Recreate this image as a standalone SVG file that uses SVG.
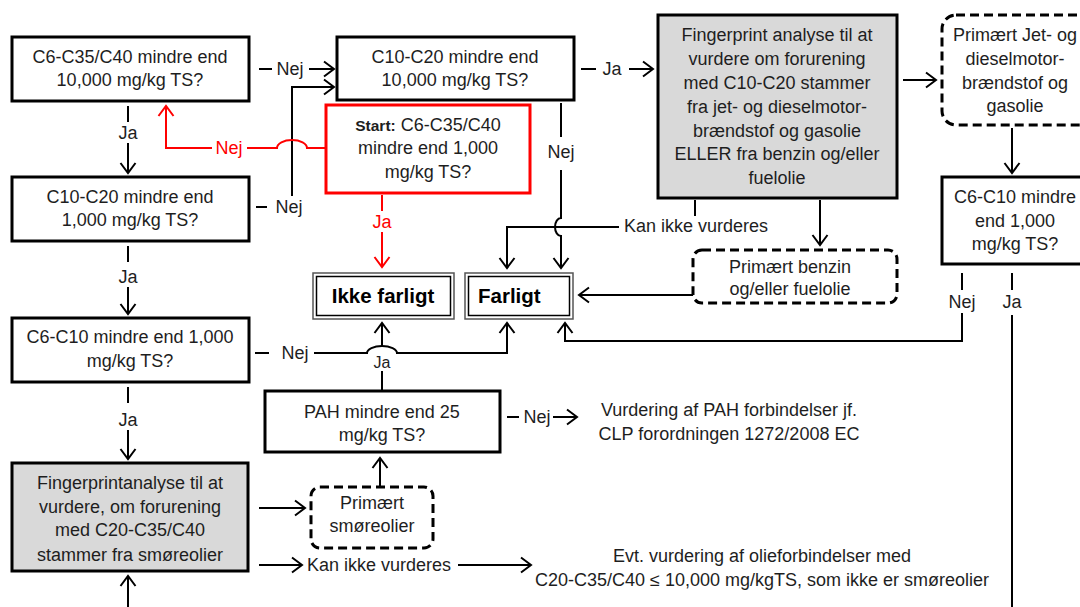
<svg xmlns="http://www.w3.org/2000/svg" width="1080" height="607" viewBox="0 0 1080 607">
<style>
text{font-family:"Liberation Sans",Arial,sans-serif;font-size:18px;fill:#1e1e1e;text-anchor:middle}
.box{fill:#fff;stroke:#000;stroke-width:3}
.gray{fill:#d9d9d9;stroke:#000;stroke-width:3}
.dash{fill:#fff;stroke:#000;stroke-width:3;stroke-dasharray:9 5}
.red{fill:#fff;stroke:#ff0000;stroke-width:3}
.outer{fill:#fff;stroke:#555;stroke-width:1.5}
.inner{fill:none;stroke:#000;stroke-width:1.5}
.big{font-size:20.5px;font-weight:bold;fill:#000}
.c{fill:none;stroke:#000;stroke-width:2}
.cr{fill:none;stroke:#ff0000;stroke-width:2}
.rt{fill:#ff0000}
.st{text-anchor:start}
</style>
<defs>
<marker id="a" markerUnits="userSpaceOnUse" markerWidth="16" markerHeight="18" viewBox="0 0 16 18" refX="14" refY="9" orient="auto">
<path d="M4,1.5 L14,9 L4,16.5" fill="none" stroke="#000" stroke-width="2"/>
</marker>
<marker id="ar" markerUnits="userSpaceOnUse" markerWidth="16" markerHeight="18" viewBox="0 0 16 18" refX="14" refY="9" orient="auto">
<path d="M4,1.5 L14,9 L4,16.5" fill="none" stroke="#ff0000" stroke-width="2"/>
</marker>
</defs>

<g id="connectors">
<!-- box1 -> box2 Nej -->
<line class="c" x1="259" y1="69" x2="272" y2="69"/>
<text x="290" y="75">Nej</text>
<line class="c" x1="309" y1="69" x2="334" y2="69" marker-end="url(#a)"/>
<!-- box3 -> box2 Nej -->
<line class="c" x1="256" y1="207" x2="267" y2="207"/>
<text x="289" y="213">Nej</text>
<path class="c" d="M292,196 V87 H334" marker-end="url(#a)"/>
<!-- red start -> box1 Nej -->
<path class="cr" d="M325,148 H307 A15,8 0 0 0 277,148 H247"/>
<text class="rt" x="229" y="154">Nej</text>
<path class="cr" d="M212,148 H166 V106" marker-end="url(#ar)"/>
<!-- red start -> Ikke farligt Ja -->
<line class="cr" x1="382" y1="195" x2="382" y2="211"/>
<text class="rt" x="382" y="228">Ja</text>
<line class="cr" x1="382" y1="232" x2="382" y2="267" marker-end="url(#ar)"/>
<!-- left column Ja arrows -->
<line class="c" x1="128" y1="106" x2="128" y2="122"/>
<text x="128" y="139">Ja</text>
<line class="c" x1="128" y1="143" x2="128" y2="173" marker-end="url(#a)"/>
<line class="c" x1="128" y1="246" x2="128" y2="262"/>
<text x="128" y="283">Ja</text>
<line class="c" x1="128" y1="287" x2="128" y2="314" marker-end="url(#a)"/>
<line class="c" x1="128" y1="387" x2="128" y2="403"/>
<text x="128" y="426">Ja</text>
<line class="c" x1="128" y1="430" x2="128" y2="459" marker-end="url(#a)"/>
<line class="c" x1="128" y1="607" x2="128" y2="576" marker-end="url(#a)"/>
<!-- box5 -> smøreolier, kan ikke -->
<line class="c" x1="259" y1="508" x2="305" y2="508" marker-end="url(#a)"/>
<line class="c" x1="259" y1="565" x2="302" y2="565" marker-end="url(#a)"/>
<text class="st" x="307" y="571">Kan ikke vurderes</text>
<line class="c" x1="458" y1="565" x2="531" y2="565" marker-end="url(#a)"/>
<!-- smøreolier -> PAH -->
<line class="c" x1="380" y1="487" x2="380" y2="458" marker-end="url(#a)"/>
<!-- PAH -> Ikke farligt Ja -->
<line class="c" x1="382" y1="391" x2="382" y2="371"/>
<text x="382" y="368" style="font-size:16px">Ja</text>
<line class="c" x1="382" y1="347" x2="382" y2="323" marker-end="url(#a)"/>
<!-- box4 Nej -> Farligt -->
<line class="c" x1="255" y1="353" x2="269" y2="353"/>
<text x="295" y="359">Nej</text>
<path class="c" d="M314,353 H367 A15,7 0 0 1 397,353 H507 V323" marker-end="url(#a)"/>
<!-- PAH Nej -->
<line class="c" x1="507" y1="417" x2="519" y2="417"/>
<text x="537" y="423">Nej</text>
<line class="c" x1="553" y1="417" x2="577" y2="417" marker-end="url(#a)"/>
<!-- box2 -> gray Ja -->
<line class="c" x1="581" y1="69" x2="596" y2="69"/>
<text x="612" y="75">Ja</text>
<line class="c" x1="629" y1="69" x2="653" y2="69" marker-end="url(#a)"/>
<!-- gray -> Jet -->
<line class="c" x1="903" y1="80" x2="936" y2="80" marker-end="url(#a)"/>
<!-- Jet -> C6-C10 right -->
<line class="c" x1="1012" y1="128" x2="1012" y2="173" marker-end="url(#a)"/>
<!-- gray -> benzin -->
<line class="c" x1="820" y1="200" x2="820" y2="245" marker-end="url(#a)"/>
<!-- benzin -> Farligt -->
<line class="c" x1="693" y1="295" x2="579" y2="295" marker-end="url(#a)"/>
<!-- gray -> Kan ikke vurderes -> Farligt -->
<line class="c" x1="695" y1="200" x2="695" y2="216"/>
<text class="st" x="624" y="232">Kan ikke vurderes</text>
<path class="c" d="M619,227 H507 V268" marker-end="url(#a)"/>
<!-- box2 Nej -> Farligt -->
<line class="c" x1="561" y1="103" x2="561" y2="137"/>
<text x="561" y="158">Nej</text>
<path class="c" d="M561,170 V218 A6,9 0 0 0 561,236 V268" marker-end="url(#a)"/>
<!-- right C6-C10 Nej -> Farligt -->
<line class="c" x1="962" y1="273" x2="962" y2="290"/>
<text x="962" y="308">Nej</text>
<path class="c" d="M962,313 V341 H565 V323" marker-end="url(#a)"/>
<!-- right C6-C10 Ja -->
<line class="c" x1="1012" y1="273" x2="1012" y2="290"/>
<text x="1012" y="308">Ja</text>
<line class="c" x1="1012" y1="315" x2="1012" y2="607"/>
</g>

<g id="box1">
<rect class="box" x="12" y="37" width="237" height="64"/>
<text x="130" y="63">C6-C35/C40 mindre end</text>
<text x="130" y="86">10,000 mg/kg TS?</text>
</g>
<g id="box2">
<rect class="box" x="337" y="37" width="237" height="63"/>
<text x="455" y="63">C10-C20 mindre end</text>
<text x="455" y="86">10,000 mg/kg TS?</text>
</g>
<g id="start">
<rect class="red" x="326" y="105" width="204" height="88"/>
<text x="428" y="131"><tspan style="font-weight:bold;font-size:15.5px">Start:</tspan> C6-C35/C40</text>
<text x="428" y="154">mindre end 1,000</text>
<text x="428" y="178">mg/kg TS?</text>
</g>
<g id="box3">
<rect class="box" x="12" y="177" width="237" height="64"/>
<text x="130" y="203">C10-C20 mindre end</text>
<text x="130" y="226">1,000 mg/kg TS?</text>
</g>
<g id="box4">
<rect class="box" x="12" y="318" width="237" height="64"/>
<text x="130" y="343">C6-C10 mindre end 1,000</text>
<text x="130" y="367">mg/kg TS?</text>
</g>
<g id="box5">
<rect class="gray" x="12" y="463" width="236" height="108"/>
<text x="130" y="489">Fingerprintanalyse til at</text>
<text x="130" y="513">vurdere, om forurening</text>
<text x="130" y="536">med C20-C35/C40</text>
<text x="130" y="561">stammer fra smøreolier</text>
</g>
<g id="ikke-farligt">
<rect class="outer" x="313" y="273" width="141" height="46"/>
<rect class="inner" x="316.5" y="276.5" width="134" height="39"/>
<text class="big" x="383" y="303">Ikke farligt</text>
</g>
<g id="farligt">
<rect class="outer" x="465" y="273" width="108" height="46"/>
<rect class="inner" x="468.5" y="276.5" width="101" height="39"/>
<text class="big st" x="478" y="303">Farligt</text>
</g>
<g id="pah">
<rect class="box" x="265" y="391" width="235" height="61"/>
<text x="382" y="418">PAH mindre end 25</text>
<text x="382" y="441">mg/kg TS?</text>
</g>
<g id="smoereolier">
<rect class="dash" x="311" y="487" width="122" height="61" rx="9"/>
<text x="372" y="509">Primært</text>
<text x="372" y="532">smøreolier</text>
</g>
<g id="pah-vurdering">
<text x="729" y="416">Vurdering af PAH forbindelser jf.</text>
<text x="729" y="440">CLP forordningen 1272/2008 EC</text>
</g>
<g id="olie-vurdering">
<text x="762" y="562">Evt. vurdering af olieforbindelser med</text>
<text x="762" y="586">C20-C35/C40 ≤ 10,000 mg/kgTS, som ikke er smøreolier</text>
</g>
<g id="fingerprint">
<rect class="gray" x="658" y="15" width="239" height="183"/>
<text x="777" y="41">Fingerprint analyse til at</text>
<text x="777" y="65">vurdere om forurening</text>
<text x="777" y="89">med C10-C20 stammer</text>
<text x="777" y="113">fra jet- og dieselmotor-</text>
<text x="777" y="137">brændstof og gasolie</text>
<text x="777" y="160">ELLER fra benzin og/eller</text>
<text x="777" y="184">fuelolie</text>
</g>
<g id="jet">
<rect class="dash" x="942" y="15" width="160" height="110" rx="14"/>
<text x="1015" y="41">Primært Jet- og</text>
<text x="1015" y="65">dieselmotor-</text>
<text x="1015" y="89">brændstof og</text>
<text x="1015" y="112">gasolie</text>
</g>
<g id="benzin">
<rect class="dash" x="693" y="250" width="204" height="53" rx="9"/>
<text x="790" y="273">Primært benzin</text>
<text x="790" y="295">og/eller fuelolie</text>
</g>
<g id="c6c10-right">
<rect class="box" x="942" y="177" width="160" height="87"/>
<text x="1015" y="203">C6-C10 mindre</text>
<text x="1015" y="227">end 1,000</text>
<text x="1015" y="250">mg/kg TS?</text>
</g>
</svg>
